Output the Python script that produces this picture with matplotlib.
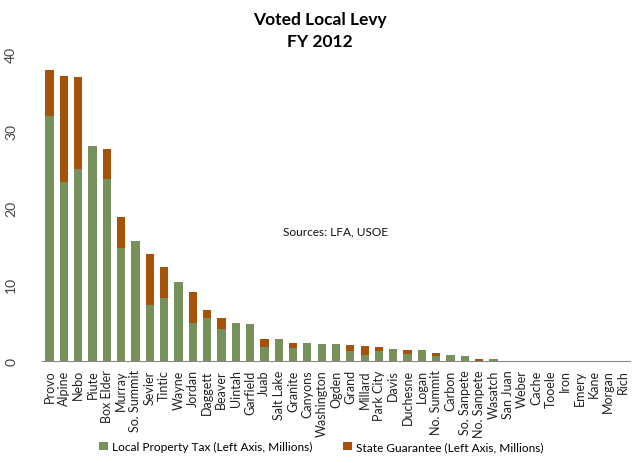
import matplotlib.pyplot as plt
import numpy as np

plt.rcParams["font.family"] = ["Lato", "DejaVu Sans"]

districts = [
    "Provo", "Alpine", "Nebo", "Piute", "Box Elder", "Murray", "So. Summit",
    "Sevier", "Tintic", "Wayne", "Jordan", "Daggett", "Beaver", "Uintah",
    "Garfield", "Juab", "Salt Lake", "Granite", "Canyons", "Washington",
    "Ogden", "Grand", "Millard", "Park City", "Davis", "Duchesne", "Logan",
    "No. Summit", "Carbon", "So. Sanpete", "No. Sanpete", "Wasatch",
    "San Juan", "Weber", "Cache", "Tooele", "Iron", "Emery", "Kane",
    "Morgan", "Rich",
]

# millions of dollars
local_tax = [
    32.0, 23.3, 25.0, 28.0, 23.7, 14.7, 15.7,
    7.3, 8.2, 10.3, 4.9, 5.65, 4.1, 4.9,
    4.8, 1.8, 2.9, 1.65, 2.35, 2.25,
    2.2, 1.35, 0.8, 1.35, 1.5, 0.9, 1.4,
    0.7, 0.75, 0.6, 0.05, 0.28,
    0.0, 0.0, 0.0, 0.0, 0.0, 0.0, 0.0,
    0.0, 0.0,
]
state_guarantee = [
    6.0, 13.9, 12.0, 0.0, 4.0, 4.1, 0.0,
    6.6, 4.0, 0.0, 4.1, 0.95, 1.55, 0.0,
    0.0, 1.1, 0.0, 0.75, 0.0, 0.0,
    0.0, 0.75, 1.15, 0.45, 0.0, 0.55, 0.0,
    0.35, 0.0, 0.0, 0.2, 0.0,
    0.0, 0.0, 0.0, 0.0, 0.0, 0.0, 0.0,
    0.0, 0.0,
]

green = "#76915C"
orange = "#A5520A"

fig = plt.figure(figsize=(6.4, 4.64), dpi=100)
ax = fig.add_axes([0.066, 0.22, 0.918, 0.661])

x = np.arange(len(districts))
ax.bar(x, local_tax, width=0.58, color=green,
       label="Local Property Tax (Left Axis, Millions)")
ax.bar(x, state_guarantee, width=0.58, bottom=local_tax, color=orange,
       label="State Guarantee (Left Axis, Millions)")

ax.set_xlim(-0.5, len(districts) - 0.5)
ax.set_ylim(0, 40)
ax.set_yticks([0, 10, 20, 30, 40])
ax.set_yticklabels(["0", "10", "20", "30", "40"], rotation=90, va="center",
                   fontsize=10, color="#444444")
ax.set_xticks(x)
ax.set_xticklabels(districts, rotation=90, fontsize=9, color="#222222")
ax.tick_params(axis="x", length=0, pad=6)
ax.tick_params(axis="y", length=0, pad=18)

for side in ["top", "right", "left"]:
    ax.spines[side].set_visible(False)
ax.spines["bottom"].set_color("#888888")

ax.text(20.0, 17, "Sources: LFA, USOE", ha="center", va="center",
        fontsize=8.6, color="#111111")

fig.text(0.5, 0.934, "Voted Local Levy\nFY 2012", ha="center", va="center",
         fontsize=12.5, fontweight="bold", linespacing=1.45)

fig.legend(loc="center", bbox_to_anchor=(0.502, 0.035), ncol=2, frameon=False,
           fontsize=8.6, handlelength=0.75, handleheight=0.75,
           handletextpad=0.35, columnspacing=2.6)

fig.savefig("out.png", dpi=100)
